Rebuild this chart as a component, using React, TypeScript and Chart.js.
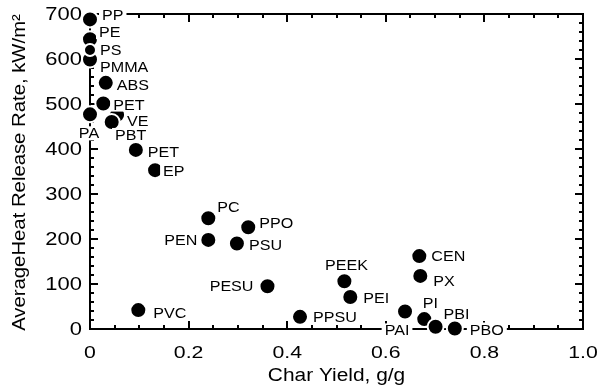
import { useEffect, useRef } from 'react';
import { Chart, registerables } from 'chart.js';

Chart.register(...registerables);

// Polymers: char yield (g/g) vs. average heat release rate (kW/m²)
const polymers = ['PP', 'PE', 'PMMA', 'PS', 'ABS', 'PA', 'PET', 'VE', 'PBT', 'PET', 'EP', 'PC', 'PEN', 'PPO', 'PSU', 'PESU', 'PVC', 'PPSU', 'PEEK', 'PEI', 'CEN', 'PX', 'PAI', 'PI', 'PBI', 'PBO'];
const charYield = [0, 0, 0, 0, 0.032, 0, 0.027, 0.055, 0.044, 0.093, 0.132, 0.24, 0.24, 0.321, 0.298, 0.36, 0.098, 0.426, 0.516, 0.528, 0.668, 0.67, 0.639, 0.678, 0.701, 0.74];
const heatRelease = [688, 644, 599, 620, 547, 477, 501, 476, 460, 398, 353, 246, 198, 226, 190, 95, 42, 27, 106, 71, 162, 118, 39, 22, 5, 1];

const xTickValues = [0, 0.2, 0.4, 0.6, 0.8, 1.0];
const xTickLabels = ['0', '0.2', '0.4', '0.6', '0.8', '1.0'];
const yTickValues = [0, 100, 200, 300, 400, 500, 600, 700];
const yTickLabels = ['0', '100', '200', '300', '400', '500', '600', '700'];
const xTitle = 'Char Yield, g/g';
const yTitle = 'AverageHeat Release Rate, kW/m²';

// Where each polymer name sits relative to its marker: [align, dx, dy]
const labelPlacement: [CanvasTextAlign, number, number][] = [
  ['left', 12, -4], // PP
  ['left', 9, -7], // PE
  ['left', 10, 8], // PMMA
  ['left', 10, 0], // PS
  ['left', 11, 2], // ABS
  ['center', -1, 19], // PA
  ['left', 10, 1], // PET
  ['left', 10, 6], // VE
  ['center', 19, 13], // PBT
  ['left', 12, 2], // PET
  ['left', 8, 1], // EP
  ['left', 9, -11], // PC
  ['right', -11, 0], // PEN
  ['left', 11, -4], // PPO
  ['left', 12, 1], // PSU
  ['right', -14, 0], // PESU
  ['left', 15, 3], // PVC
  ['left', 13, 0], // PPSU
  ['center', 2, -16], // PEEK
  ['left', 13, 1], // PEI
  ['left', 12, 0], // CEN
  ['left', 13, 5], // PX
  ['center', -8, 19], // PAI
  ['center', 6, -16], // PI
  ['center', 21, -13], // PBI
  ['left', 15, 1], // PBO
];

const FONT = '"Liberation Sans", Arial, Helvetica, sans-serif';

// Draws text horizontally widened by sx; y is the vertical centre of the capitals.
function wideText(
  ctx: CanvasRenderingContext2D,
  text: string,
  x: number,
  y: number,
  align: CanvasTextAlign,
  size: number,
  sx: number,
  box = false,
) {
  ctx.save();
  ctx.font = `${size}px ${FONT}`;
  const w = ctx.measureText(text).width * sx;
  const left = align === 'left' ? x : align === 'right' ? x - w : x - w / 2;
  const cap = size * 0.72;
  if (box) {
    ctx.fillStyle = '#ffffff';
    ctx.fillRect(left - 3, y - cap / 2 - 2, w + 6, cap + 4);
  }
  ctx.translate(left, y + cap / 2);
  ctx.scale(sx, 1);
  ctx.fillStyle = '#000000';
  ctx.textAlign = 'left';
  ctx.textBaseline = 'alphabetic';
  ctx.fillText(text, 0, 0);
  ctx.restore();
}

const framePlugin = {
  id: 'frameAndTicks',
  beforeDatasetsDraw(chart: any) {
    const ctx: CanvasRenderingContext2D = chart.ctx;
    const xs = chart.scales.x;
    const ys = chart.scales.y;
    const { left, right, top, bottom } = chart.chartArea;
    ctx.save();
    ctx.strokeStyle = '#000';
    ctx.lineWidth = 2;
    ctx.lineCap = 'square';
    ctx.strokeRect(left, top, right - left, bottom - top);

    ctx.lineCap = 'butt';
    ctx.beginPath();
    // x ticks every 0.05, longer at labelled values
    for (let i = 0; i <= 20; i++) {
      const v = i * 0.05;
      const px = Math.round(xs.getPixelForValue(v));
      const len = i % 4 === 0 ? 8 : 4;
      ctx.moveTo(px, bottom);
      ctx.lineTo(px, bottom - len);
      ctx.moveTo(px, top);
      ctx.lineTo(px, top + len);
    }
    // y ticks every 20, longer every 100
    for (let i = 0; i <= 35; i++) {
      const v = i * 20;
      const py = Math.round(ys.getPixelForValue(v));
      const len = i % 5 === 0 ? 8 : 4;
      ctx.moveTo(left, py);
      ctx.lineTo(left + len, py);
      ctx.moveTo(right, py);
      ctx.lineTo(right - len, py);
    }
    ctx.stroke();
    ctx.restore();

    xTickValues.forEach((v, i) => {
      wideText(ctx, xTickLabels[i], xs.getPixelForValue(v), bottom + 23, 'center', 17, 1.25);
    });
    yTickValues.forEach((v, i) => {
      wideText(ctx, yTickLabels[i], left - 8, ys.getPixelForValue(v), 'right', 18, 1.22);
    });
    wideText(ctx, xTitle, (left + right) / 2, bottom + 46, 'center', 18, 1.16);

    ctx.save();
    ctx.translate(18.5, (top + bottom) / 2 + 1);
    ctx.rotate(-Math.PI / 2);
    wideText(ctx, yTitle, 0, 0, 'center', 17.5, 1.16);
    ctx.restore();
  },
  afterDatasetsDraw(chart: any) {
    const ctx: CanvasRenderingContext2D = chart.ctx;
    const xs = chart.scales.x;
    const ys = chart.scales.y;
    polymers.forEach((name, i) => {
      const [align, dx, dy] = labelPlacement[i];
      const px = xs.getPixelForValue(charYield[i]);
      const py = ys.getPixelForValue(heatRelease[i]);
      wideText(ctx, name, px + dx, py + dy, align, 14, 1.15, true);
    });
  },
};

export default function App() {
  const canvasRef = useRef<HTMLCanvasElement | null>(null);

  useEffect(() => {
    const canvas = canvasRef.current;
    if (!canvas) return;
    const chart = new Chart(canvas, {
      type: 'scatter',
      data: {
        datasets: [
          {
            data: charYield.map((x, i) => ({ x, y: heatRelease[i] })),
            backgroundColor: '#000000',
            borderColor: '#ffffff',
            borderWidth: 2,
            pointRadius: (c: any) => (polymers[c.dataIndex] === 'PS' ? 6 : 8),
            pointHoverRadius: 8,
            clip: false,
          } as any,
        ],
      },
      options: {
        responsive: false,
        animation: false,
        events: [],
        layout: { padding: { left: 90, right: 14, top: 14, bottom: 58 } },
        plugins: { legend: { display: false }, tooltip: { enabled: false } },
        scales: {
          x: { type: 'linear', min: 0, max: 1, display: false },
          y: { type: 'linear', min: 0, max: 700, display: false },
        },
      },
      plugins: [framePlugin],
    });
    return () => chart.destroy();
  }, []);

  return (
    <div style={{ position: 'absolute', left: 0, top: 0, width: 597, height: 387, background: '#fff' }}>
      <canvas ref={canvasRef} width={597} height={387} style={{ display: 'block' }} />
    </div>
  );
}
